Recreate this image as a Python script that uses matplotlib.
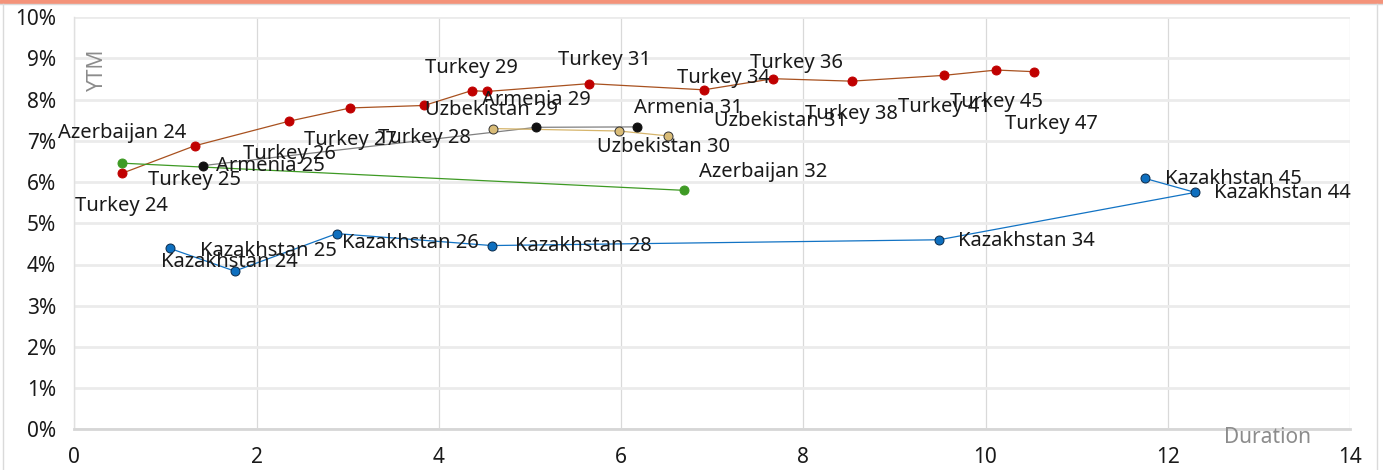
import matplotlib.pyplot as plt
from matplotlib.lines import Line2D
from matplotlib.patches import Rectangle
from matplotlib.ticker import FuncFormatter

plt.rcParams['font.family'] = ['Noto Sans', 'DejaVu Sans']

# duration (years) and yield to maturity (%) per issuer
turkey_dur = [0.52, 1.32, 2.36, 3.03, 3.84, 4.36, 4.53, 5.65, 6.91, 7.67, 8.53, 9.54, 10.12, 10.53]
turkey_ytm = [6.21, 6.88, 7.48, 7.80, 7.86, 8.22, 8.20, 8.39, 8.24, 8.51, 8.45, 8.59, 8.72, 8.68]
turkey_names = ["Turkey 24", "Turkey 25", "Turkey 26", "Turkey 27", "Turkey 28", "Turkey 29", "",
                "Turkey 31", "Turkey 34", "Turkey 36", "Turkey 38", "Turkey 41", "Turkey 45", "Turkey 47"]

armenia_dur = [1.41, 5.07, 6.18]
armenia_ytm = [6.40, 7.33, 7.34]
armenia_names = ["Armenia 25", "Armenia 29", "Armenia 31"]

uzbek_dur = [4.59, 5.98, 6.52]
uzbek_ytm = [7.30, 7.24, 7.12]
uzbek_names = ["Uzbekistan 29", "Uzbekistan 30", "Uzbekistan 31"]

azer_dur = [0.52, 6.69]
azer_ytm = [6.46, 5.80]
azer_names = ["Azerbaijan 24", "Azerbaijan 32"]

kaz_dur = [1.05, 1.76, 2.88, 4.58, 9.49, 12.30, 11.75]
kaz_ytm = [4.39, 3.84, 4.75, 4.46, 4.60, 5.75, 6.09]
kaz_names = ["Kazakhstan 24", "Kazakhstan 25", "Kazakhstan 26", "Kazakhstan 28",
             "Kazakhstan 34", "Kazakhstan 44", "Kazakhstan 45"]

# label offsets in pixels (dx, dy) and alignment, as placed in the original
turkey_off = [(0, -33, 'center'), (0, -34, 'center'), (0, -33, 'center'), (0, -32, 'center'),
              (0, -33, 'center'), (0, 23, 'center'), (0, 0, 'center'), (15, 24, 'center'),
              (19, 12, 'center'), (23, 16, 'center'), (0, -33, 'center'), (1, -32, 'center'),
              (0, -32, 'center'), (18, -52, 'center')]
armenia_off = [(13, 0, 'left'), (0, 27, 'center'), (51, 19, 'center')]
uzbek_off = [(-1, 19, 'center'), (44, -16, 'center'), (112, 15, 'center')]
azer_off = [(0, 30, 'center'), (79, 18, 'center')]
kaz_off = [(59, -14, 'center'), (34, 20, 'center'), (5, -9, 'left'), (23, 0, 'left'),
           (19, -1, 'left'), (19, -1, 'left'), (20, -1, 'left')]

series = [
    (turkey_dur, turkey_ytm, turkey_names, turkey_off, '#A8511F', '#C00000', '#C00000'),
    (armenia_dur, armenia_ytm, armenia_names, armenia_off, '#808080', '#111111', '#111111'),
    (uzbek_dur, uzbek_ytm, uzbek_names, uzbek_off, '#D6B56C', '#D9BC78', '#333333'),
    (azer_dur, azer_ytm, azer_names, azer_off, '#3E9A24', '#3E9A24', '#3E9A24'),
    (kaz_dur, kaz_ytm, kaz_names, kaz_off, '#1273C4', '#0E6FBF', '#0B2A4A'),
]

fig = plt.figure(figsize=(13.83, 4.70), dpi=100)
ax = fig.add_axes([74.3 / 1383, 1 - 429.3 / 470, (1350 - 74.3) / 1383, (429.3 - 17.3) / 470])

for dur, ytm, names, offs, lc, fc, ec in series:
    ax.plot(dur, ytm, color=lc, lw=0.9, zorder=3)
    ax.scatter(dur, ytm, s=42, color=fc, edgecolors=ec, linewidths=0.7, zorder=4)
    for x, y, name, (dx, dy, ha) in zip(dur, ytm, names, offs):
        if name:
            ax.annotate(name, (x, y), xytext=(dx, dy), textcoords='offset pixels',
                        ha=ha, va='center', fontsize=14.5, color='#1a1a1a', zorder=5)

ax.set_xlim(0, 14)
ax.set_ylim(0, 10)
ax.set_xticks(range(0, 15, 2))
ax.set_yticks(range(0, 11))
ax.yaxis.set_major_formatter(FuncFormatter(lambda v, p: "{0:.0f}%".format(v)))
ax.tick_params(length=0, labelsize=15, colors='#1a1a1a')
ax.tick_params(axis='x', pad=13)
ax.tick_params(axis='y', pad=13)

ax.grid(axis='y', color='#EBEBEB', lw=2, zorder=0)
ax.grid(axis='x', color='#D9D9D9', lw=0.9, zorder=0)
ax.set_axisbelow(True)
for s in ['top', 'right']:
    ax.spines[s].set_visible(False)
ax.spines['left'].set_color('#E0E0E0')
ax.spines['left'].set_linewidth(1)
ax.spines['bottom'].set_color('#D6D6D6')
ax.spines['bottom'].set_linewidth(2)

ax.text(0.018, 0.872, "YTM", transform=ax.transAxes, rotation=90, ha='center', va='center',
        fontsize=15, color='#8C8C8C')
ax.text(0.935, -0.02, "Duration", transform=ax.transAxes, ha='center', va='center',
        fontsize=15, color='#8C8C8C')

# frame and header band of the original slide
fig.patches.append(Rectangle((0, 1 - 3 / 470), 1, 3 / 470, transform=fig.transFigure,
                             color='#F4937A', zorder=0))
fig.add_artist(Line2D([0, 1], [1 - 4 / 470, 1 - 4 / 470], color='#DADADA', lw=1))
fig.add_artist(Line2D([3 / 1383, 3 / 1383], [0, 1 - 4 / 470], color='#DADADA', lw=1))
fig.add_artist(Line2D([1377 / 1383, 1377 / 1383], [0, 1 - 4 / 470], color='#DADADA', lw=1))

fig.savefig("out.png", dpi=100)
